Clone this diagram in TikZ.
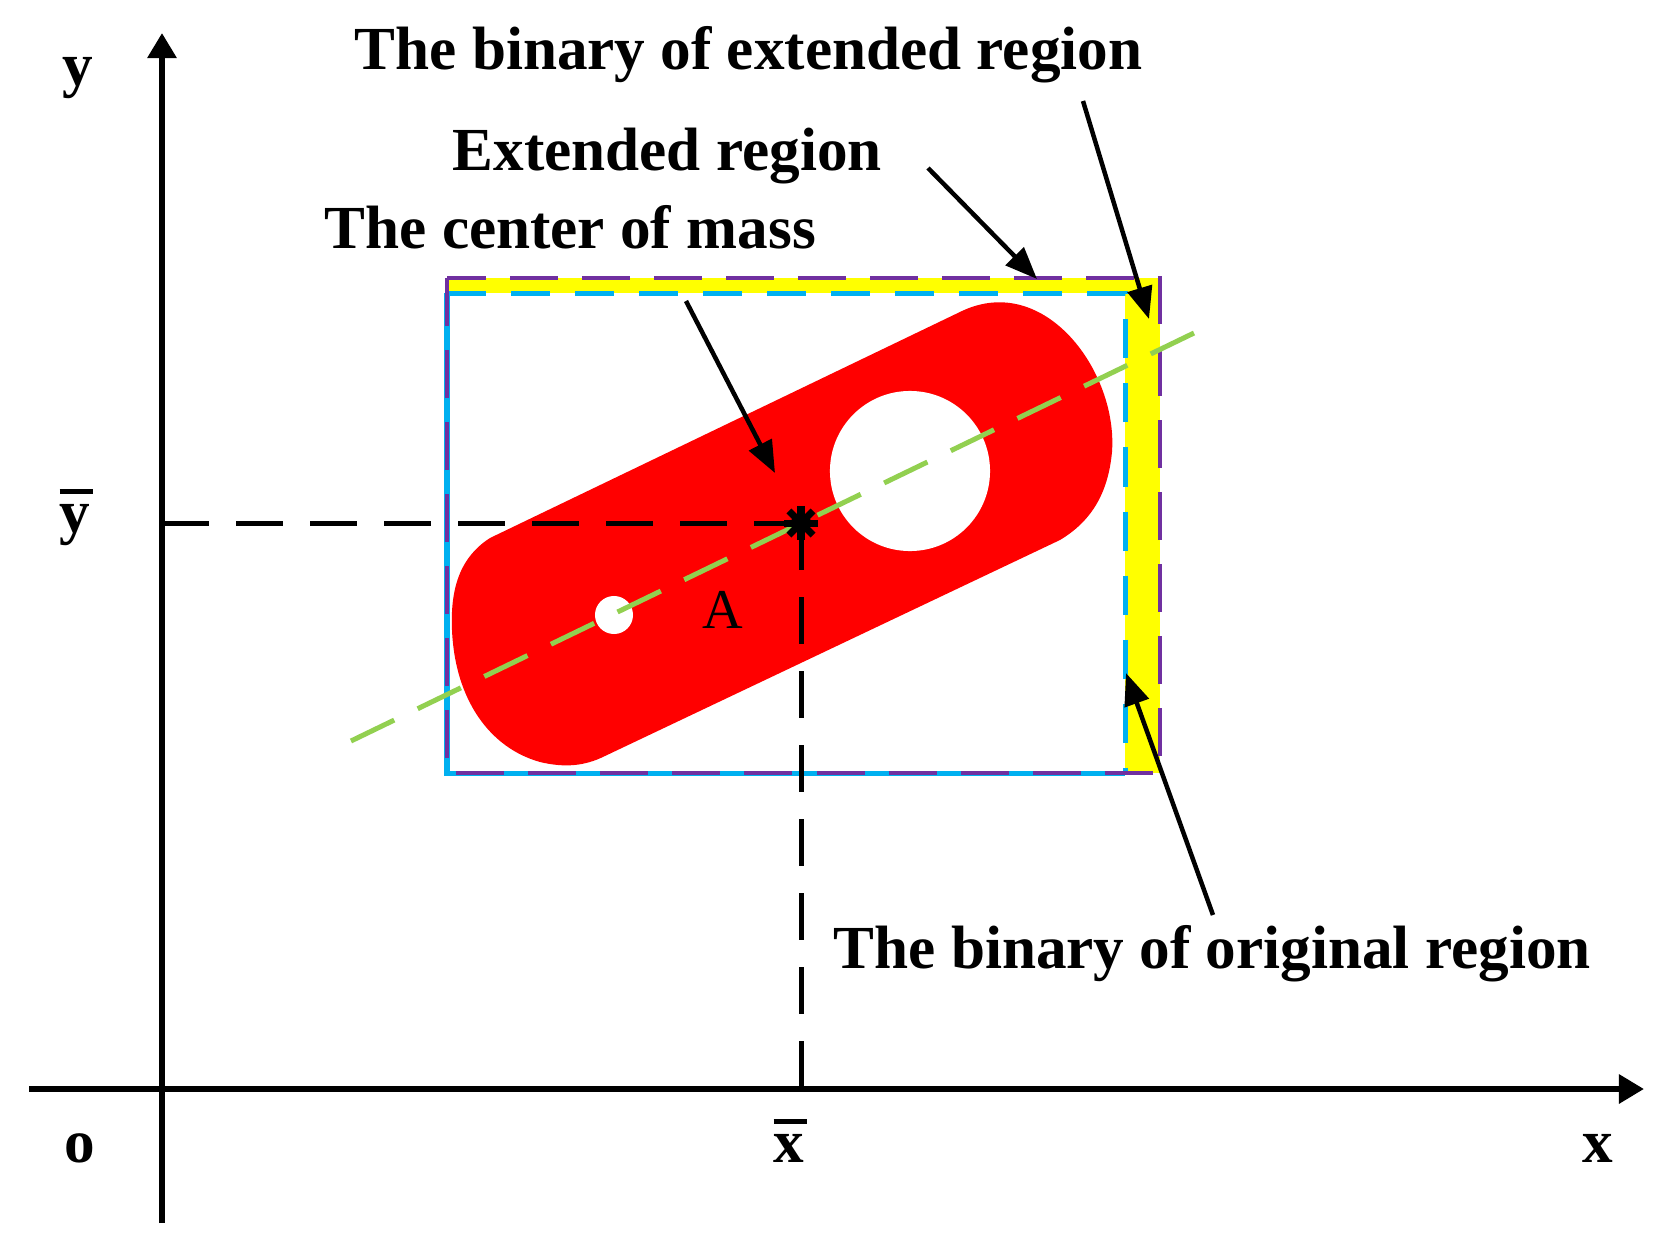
\documentclass[tikz,border=0pt]{standalone}
\usepackage{fontspec}
\setmainfont{Liberation Serif}
\usetikzlibrary{arrows.meta}
\definecolor{cRed}{RGB}{255,0,0}
\definecolor{cYel}{RGB}{255,255,0}
\definecolor{cCyan}{RGB}{0,176,240}
\definecolor{cPurp}{RGB}{112,48,160}
\definecolor{cGreen}{RGB}{146,208,80}
\newcommand{\barred}[1]{\makebox[0pt][l]{\raisebox{0.62em}{\rule{0.55em}{0.08em}}}#1}
\begin{document}
\begin{tikzpicture}[x=0.01cm,y=-0.01cm,
  lbl/.style={font=\fontsize{17.4}{20}\selectfont\bfseries, inner sep=0pt},
  axislbl/.style={font=\fontsize{17.4}{20}\selectfont\bfseries, inner sep=0pt, anchor=base},
  axisline/.style={line width=0.06cm, -{Triangle[length=0.25cm,width=0.28cm]}},
  callout/.style={line width=0.045cm, -{Triangle[length=0.32cm,width=0.25cm]}},
  guide/.style={line width=0.05cm, dash pattern=on 0.47cm off 0.27cm},
  purpbox/.style={cPurp, line width=0.045cm, dash pattern=on 0.48cm off 0.24cm},
  cyanbox/.style={cCyan, line width=0.05cm, dash pattern=on 0.39cm off 0.25cm},
  cyansolid/.style={cCyan, line width=0.05cm},
  axisdash/.style={cGreen, line width=0.05cm, dash pattern=on 0.48cm off 0.26cm},
]
\useasboundingbox (0,0) rectangle (1668,1251);

% coordinates
\coordinate (xs) at (29,1089);
\coordinate (xe) at (1644,1089);
\coordinate (ys) at (162,1223);
\coordinate (ye) at (162,33);
\coordinate (c) at (801,523);
\coordinate (yb) at (162,523);
\coordinate (xb) at (801,1089);
\coordinate (g1) at (351,741);
\coordinate (g2) at (1194,333);

% yellow strips
\fill[cYel] (447,278) rectangle (1160,293);
\fill[cYel] (1125,278) rectangle (1160,773);

% red part
\fill[cRed] (490,538) -- (962,311) .. controls (1045,272) and (1118,372) .. (1112,452)
  .. controls (1108,495) and (1090,522) .. (1060,540) -- (605,756)
  .. controls (585,766) and (565,768) .. (540,762)
  .. controls (490,748) and (455,700) .. (452,630)
  .. controls (450,585) and (462,556) .. cycle;
\fill[white] (614,615) circle[radius=0.19cm];
\fill[white] (910,471) circle[radius=0.8cm];

% rectangles
\draw[cyansolid] (447,293) -- (447,773) -- (1125,773);
\draw[cyanbox] (447,293) -- (1125,293) -- (1125,773);
\draw[purpbox] (447,278) rectangle (1160,773);

% green axis
\draw[axisdash] (g1) -- (g2);

% axes
\draw[axisline] (xs) -- (xe);
\draw[axisline] (ys) -- (ye);

% guides
\draw[guide] (yb) -- (c);
\draw[guide] (c) -- (xb);

% center of mass star
\fill (c) circle[radius=0.1cm];
\foreach \a in {0,45,90,135}
  \draw[line width=0.07cm] (c) ++(\a:0.17cm) -- ++(\a+180:0.34cm);

% labels
\node[lbl, anchor=base west] (tExtBin) at (354,69) {The binary of extended region};
\node[lbl, anchor=base west] (tExt) at (452,170) {Extended region};
\node[lbl, anchor=base west] (tCom) at (324,248) {The center of mass};
\node[lbl, anchor=base west] (tOrig) at (833,968) {The binary of original region};
\node[font=\fontsize{16}{18}\selectfont, inner sep=0pt, anchor=base] (tA) at (723,628) {A};
\node[axislbl] (ly) at (78,85) {y};
\node[axislbl] (lyb) at (75,532) {\barred{y}};
\node[axislbl] (lo) at (80,1162) {o};
\node[axislbl] (lxb) at (789,1162) {\barred{x}};
\node[axislbl] (lx) at (1598,1162) {x};

% callouts
\coordinate (a1s) at (1083,101);
\coordinate (a1e) at (1149,319);
\coordinate (a2s) at (928,168);
\coordinate (a2e) at (1037,279);
\coordinate (a3s) at (686,301);
\coordinate (a3e) at (775,473);
\coordinate (a4s) at (1213,915);
\coordinate (a4e) at (1126,673);
\draw[callout] (a1s) -- (a1e);
\draw[callout] (a2s) -- (a2e);
\draw[callout] (a3s) -- (a3e);
\draw[callout] (a4s) -- (a4e);
\end{tikzpicture}
\end{document}
